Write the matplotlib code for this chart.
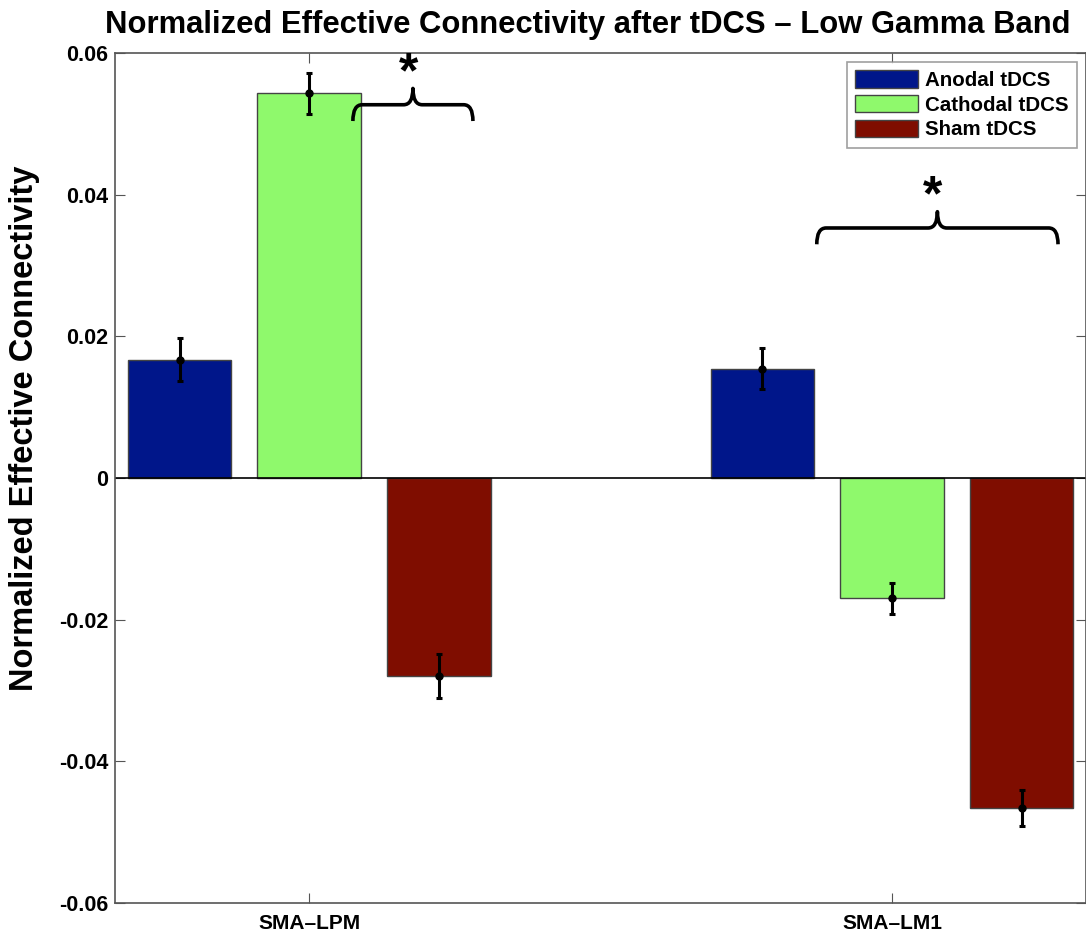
import numpy as np
import matplotlib
matplotlib.use('Agg')
import matplotlib.pyplot as plt
from matplotlib.path import Path
from matplotlib.patches import PathPatch

plt.rcParams['font.family'] = ['Liberation Sans', 'DejaVu Sans']
plt.rcParams['font.weight'] = 'bold'

# 数据
groups = ['SMA–LPM', 'SMA–LM1']
conditions = ['Anodal tDCS', 'Cathodal tDCS', 'Sham tDCS']
anodal = [0.0167, 0.0154]
cathodal = [0.0543, -0.0170]
sham = [-0.0280, -0.0466]
anodal_err = [0.0030, 0.0029]
cathodal_err = [0.0029, 0.0022]
sham_err = [0.0031, 0.0025]
colors = ['#00168A', '#8FF96C', '#7F0D00']
yticks = [-0.06, -0.04, -0.02, 0, 0.02, 0.04, 0.06]
ytick_labels = ['-0.06', '-0.04', '-0.02', '0', '0.02', '0.04', '0.06']

# 显著性括号 (x0, x1, y)
brace_spans = [(1.075, 1.281, 0.0527), (1.871, 2.285, 0.0353)]


def draw_brace(ax, x0, x1, y, h=0.0023, r=0.016, lw=2.6):
    xm = (x0 + x1) / 2
    verts = [(x0, y - h), (x0, y), (x0 + r, y), (xm - r, y),
             (xm, y), (xm, y + h), (xm, y), (xm + r, y),
             (x1 - r, y), (x1, y), (x1, y - h)]
    codes = [Path.MOVETO, Path.CURVE3, Path.CURVE3, Path.LINETO,
             Path.CURVE3, Path.CURVE3, Path.CURVE3, Path.CURVE3,
             Path.LINETO, Path.CURVE3, Path.CURVE3]
    ax.add_patch(PathPatch(Path(verts, codes), fill=False, lw=lw, zorder=4,
                           edgecolor='black', capstyle='butt', joinstyle='round'))
    ax.text(xm - 0.008, y + 0.0043, '*', ha='center', va='center',
            fontsize=36, fontweight='bold', zorder=4)


fig = plt.figure(figsize=(10.86, 9.32), dpi=100)
ax = fig.add_axes([0.106, 0.0311, 0.894, 0.912])

x = np.arange(1, len(groups) + 1)
step = 0.667 / 3
width = 0.8 * step
vals = [anodal, cathodal, sham]
errs = [anodal_err, cathodal_err, sham_err]
for i in range(3):
    xi = x + (i - 1) * step
    ax.bar(xi, vals[i], width, color=colors[i], edgecolor='#444444',
           linewidth=1, label=conditions[i], zorder=2)
    ax.errorbar(xi, vals[i], yerr=errs[i], fmt='o', color='black',
                markersize=5, elinewidth=2.2, capsize=2.5, capthick=2.2, zorder=3)

ax.axhline(0, color='black', lw=1.2, zorder=2.5)

for x0, x1, y in brace_spans:
    draw_brace(ax, x0, x1, y)

ax.set_xlim(0.667, 2.333)
ax.set_ylim(-0.06, 0.06)
ax.set_xticks(x)
ax.set_xticklabels(groups, fontsize=15, fontweight='bold')
ax.set_yticks(yticks)
ax.set_yticklabels(ytick_labels, fontsize=15.5, fontweight='bold')
ax.tick_params(direction='in', top=True, right=True, length=7,
               color='#555555')
ax.tick_params(axis='y', pad=5)
ax.tick_params(axis='x', pad=8)
for s in ax.spines.values():
    s.set_color('#555555')
    s.set_linewidth(1.2)

fig.text(25 / 1086, 1 - 428 / 932, 'Normalized Effective Connectivity',
         rotation=90, ha='center', va='center', fontsize=23.5, fontweight='bold')
fig.text(588 / 1086, 1 - 33 / 932,
         'Normalized Effective Connectivity after tDCS – Low Gamma Band',
         ha='center', va='baseline', fontsize=22.3, fontweight='bold')

leg = ax.legend(loc='upper right', bbox_to_anchor=(0.9907, 0.9894), fontsize=14.75,
                fancybox=False, edgecolor='#888888', handlelength=3.07,
                handleheight=0.93, borderpad=0.4, labelspacing=0.24,
                handletextpad=0.34, borderaxespad=0)
leg.get_frame().set_linewidth(1.2)

plt.savefig('out.png', dpi=100)
